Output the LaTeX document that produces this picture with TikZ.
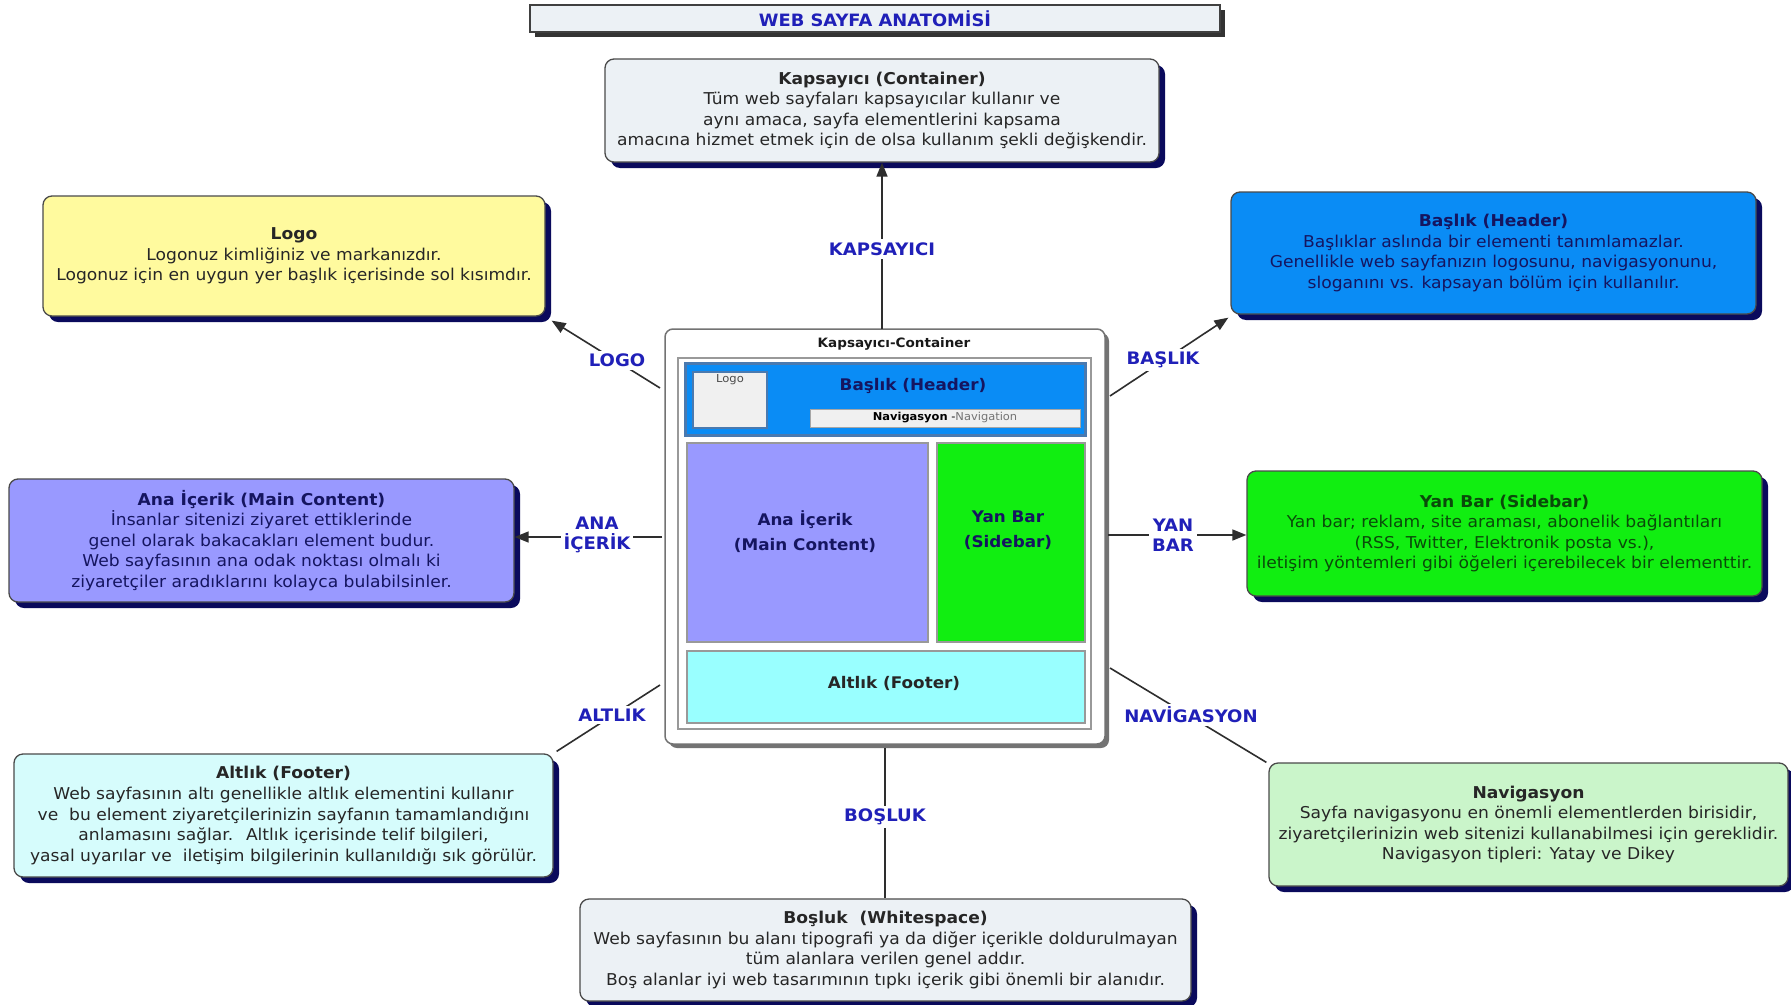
\documentclass[tikz,border=0pt]{standalone}
\usepackage{fontspec}
\setmainfont{DejaVu Sans}[FakeStretch=1.05]
\usetikzlibrary{shadows,calc,arrows.meta,positioning}

\definecolor{boxline}{HTML}{4A4A4A}
\definecolor{navyshadow}{HTML}{0A0A5C}
\definecolor{paleblue}{HTML}{ECF1F5}
\definecolor{logofill}{HTML}{FFFA9E}
\definecolor{hdrfill}{HTML}{0A8CF5}
\definecolor{mainfill}{HTML}{9999FF}
\definecolor{sidefill}{HTML}{11EE11}
\definecolor{footfill}{HTML}{D6FCFC}
\definecolor{navfill}{HTML}{CAF5CA}
\definecolor{lblblue}{HTML}{2020B8}
\definecolor{navytext}{HTML}{151560}
\definecolor{greentext}{HTML}{0A4A0A}
\definecolor{steel}{HTML}{4A7AB0}
\definecolor{cyanfill}{HTML}{99FFFF}
\definecolor{linegray}{HTML}{2E2E2E}

\newcommand\txtsize{\fontsize{16.3}{20.6}\selectfont}
\newcommand\smallbold{\bfseries\fontsize{16}{25}\selectfont}

\begin{document}
\begin{tikzpicture}[x=1pt,y=-1pt,
  infobox/.style={rounded corners=9pt, draw=boxline, line width=1.3pt,
    align=center, font=\txtsize, inner sep=0pt, text=black!85,
    drop shadow={shadow xshift=6pt, shadow yshift=-6pt, fill=navyshadow, opacity=1}},
  conn/.style={draw=linegray, line width=1.6pt},
  arr/.style={conn, -{Triangle[length=14pt,width=11pt]}},
  lbl/.style={font=\bfseries\fontsize{17.2}{20}\selectfont, text=lblblue,
    fill=white, inner sep=3pt, align=center},
  part/.style={draw=black!40, line width=1.2pt, inner sep=0pt},
  parttext/.style={align=center, font=\smallbold, text=navytext, inner sep=0pt}
]
\useasboundingbox[fill=white] (0,0) rectangle (1791,1004);

% title bar
\node[draw=black!75, line width=1.2pt, fill=paleblue, minimum width=690pt,
  minimum height=27pt, inner sep=0pt,
  drop shadow={shadow xshift=5pt, shadow yshift=-5pt, fill=black!80, opacity=1},
  font=\bfseries\fontsize{17}{18}\selectfont, text=lblblue]
  (title) at (875,18.5) {WEB SAYFA ANATOMİSİ};

% description boxes
\node[infobox, fill=paleblue, minimum width=554pt, minimum height=103pt]
  (kap) at (882,110.5) {\textbf{Kapsayıcı (Container)}\\
  Tüm web sayfaları kapsayıcılar kullanır ve\\
  aynı amaca, sayfa elementlerini kapsama\\
  amacına hizmet etmek için de olsa kullanım şekli değişkendir.};

\node[infobox, fill=logofill, minimum width=502pt, minimum height=120pt]
  (logo) at (294,256) {\textbf{Logo}\\
  Logonuz kimliğiniz ve markanızdır.\\
  Logonuz için en uygun yer başlık içerisinde sol kısımdır.};

\node[infobox, fill=hdrfill, text=navytext, minimum width=525pt, minimum height=122pt]
  (hdr) at (1493.5,253) {\textbf{Başlık (Header)}\\
  Başlıklar aslında bir elementi tanımlamazlar.\\
  Genellikle web sayfanızın logosunu, navigasyonunu,\\
  sloganını vs. kapsayan bölüm için kullanılır.};

\node[infobox, fill=mainfill, text=navytext, minimum width=505pt, minimum height=123pt]
  (ana) at (261.5,540.5) {\textbf{Ana İçerik (Main Content)}\\
  İnsanlar sitenizi ziyaret ettiklerinde\\
  genel olarak bakacakları element budur.\\
  Web sayfasının ana odak noktası olmalı ki\\
  ziyaretçiler aradıklarını kolayca bulabilsinler.};

\node[infobox, fill=sidefill, text=greentext, minimum width=515pt, minimum height=125pt]
  (yan) at (1504.5,533.5) {\textbf{Yan Bar (Sidebar)}\\
  Yan bar; reklam, site araması, abonelik bağlantıları\\
  (RSS, Twitter, Elektronik posta vs.),\\
  iletişim yöntemleri gibi öğeleri içerebilecek bir elementtir.};

\node[infobox, fill=footfill, minimum width=539pt, minimum height=123pt]
  (alt) at (283.5,815.5) {\textbf{Altlık (Footer)}\\
  Web sayfasının altı genellikle altlık elementini kullanır\\
  ve \ bu element ziyaretçilerinizin sayfanın tamamlandığını\\
  anlamasını sağlar. \ Altlık içerisinde telif bilgileri,\\
  yasal uyarılar ve \ iletişim bilgilerinin kullanıldığı sık görülür.};

\node[infobox, fill=navfill, minimum width=519pt, minimum height=123pt]
  (nav) at (1528.5,824.5) {\textbf{Navigasyon}\\
  Sayfa navigasyonu en önemli elementlerden birisidir,\\
  ziyaretçilerinizin web sitenizi kullanabilmesi için gereklidir.\\
  Navigasyon tipleri: Yatay ve Dikey};

\node[infobox, fill=paleblue, minimum width=611pt, minimum height=102pt]
  (bos) at (885.5,950) {\textbf{Boşluk \ (Whitespace)}\\
  Web sayfasının bu alanı tipografi ya da diğer içerikle doldurulmayan\\
  tüm alanlara verilen genel addır.\\
  Boş alanlar iyi web tasarımının tıpkı içerik gibi önemli bir alanıdır.};

% central page model
\node[draw=black!55, line width=1.5pt, fill=white, rounded corners=8pt,
  minimum width=440pt, minimum height=415pt, inner sep=0pt,
  drop shadow={shadow xshift=4pt, shadow yshift=-4pt, fill=black!55, opacity=1}]
  (cont) at (885,536.5) {};
\node[font=\bfseries\fontsize{12.9}{14}\selectfont, text=black!90]
  (conttitle) at (894,344) {Kapsayıcı-Container};
\node[draw=black!40, line width=1.2pt, fill=white, minimum width=413pt,
  minimum height=371pt, inner sep=0pt] (frame) at (884.5,543.5) {};
\node[draw=steel, line width=3pt, fill=hdrfill, minimum width=400pt,
  minimum height=72pt, inner sep=0pt] (mhdr) at (885,399) {};
\node[draw=steel, line width=2pt, fill=black!6, minimum width=74pt,
  minimum height=56pt, inner sep=0pt] (mlogo) at (730,400) {};
\node[font=\fontsize{11}{12}\selectfont, text=black!70, below=3pt of mlogo.north,
  inner sep=0pt] (mlogotxt) {Logo};
\node[parttext] (mhdrtxt) at (913,386) {Başlık (Header)};
\node[draw=black!35, line width=1pt, fill=black!6, minimum width=270pt,
  minimum height=18pt, inner sep=0pt, font=\fontsize{10.9}{11}\selectfont]
  (mnav) at (945,418) {\textbf{Navigasyon} -{\color{black!55}Navigation}};
\node[part, fill=mainfill, minimum width=241pt, minimum height=199pt]
  (mmain) at (807.5,542.5) {};
\node[parttext] (mmaintxt) at (805,531.5) {Ana İçerik\\(Main Content)};
\node[part, fill=sidefill, minimum width=148pt, minimum height=199pt]
  (mside) at (1011,542.5) {};
\node[parttext] (msidetxt) at (1008,530.5) {Yan Bar\\(Sidebar)};
\node[part, fill=cyanfill, minimum width=398pt, minimum height=72pt]
  (mfoot) at (886,687) {};
\node[parttext, text=black!85] (mfoottxt) at (894,683) {Altlık (Footer)};

% connectors
\coordinate (cLogo) at (660,388);
\coordinate (cHdr) at (1110,396);
\coordinate (cAna) at (662,537);
\coordinate (cYan) at (1108,535);
\coordinate (cAlt) at (660,685);
\coordinate (cNav) at (1110,668);
\coordinate (cKap) at (882,329);
\coordinate (cBos) at (885,748);

\draw[arr] (cKap) -- (kap.south);
\draw[arr] (cLogo) -- ($(logo.south east)+(6,4)$);
\draw[arr] (cHdr) -- ($(hdr.south west)+(-2,3)$);
\draw[arr] (cAna) -- (cAna -| ana.east);
\draw[arr] (cYan) -- (cYan -| yan.west);
\draw[conn] (cAlt) -- ($(alt.north east)+(3,-2)$);
\draw[conn] (cNav) -- ($(nav.north west)+(-2,0)$);
\draw[conn] (cBos) -- (cBos |- bos.north);

% connector labels
\node[lbl] (lKap) at (882,249) {KAPSAYICI};
\node[lbl] (lLogo) at (617,360) {LOGO};
\node[lbl] (lHdr) at (1163,360) {BAŞLIK};
\node[lbl] (lAna) at (597,535) {ANA\\İÇERİK};
\node[lbl] (lYan) at (1173,535) {YAN\\BAR};
\node[lbl] (lAlt) at (612,715) {ALTLIK};
\node[lbl] (lNav) at (1191,715) {NAVİGASYON};
\node[lbl] (lBos) at (885,817) {BOŞLUK};
\end{tikzpicture}
\end{document}
